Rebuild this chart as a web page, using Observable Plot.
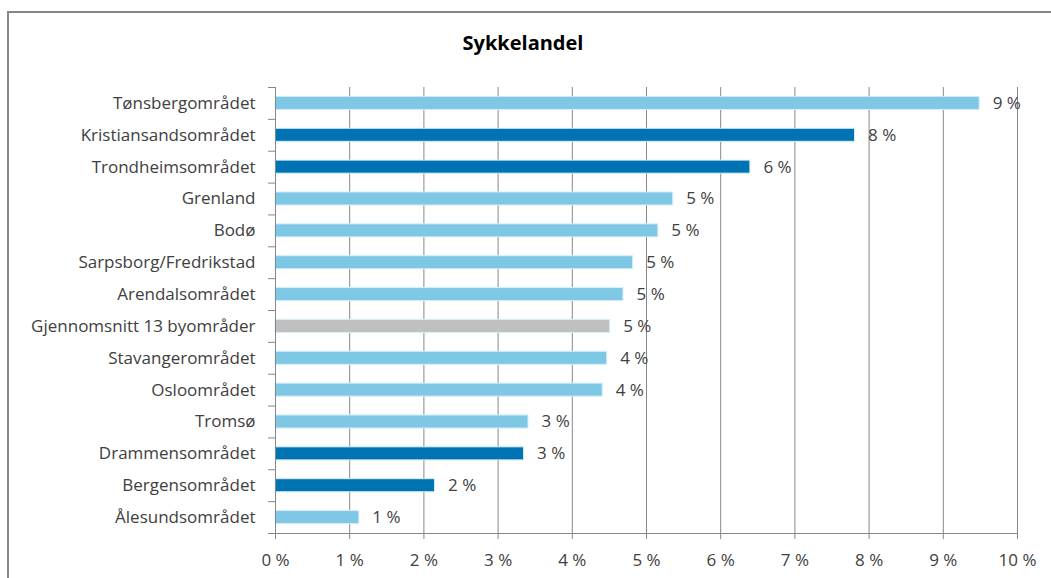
<!DOCTYPE html>
<html>
<head>
<meta charset="utf-8">
<script src="https://cdn.jsdelivr.net/npm/d3@7"></script>
<script src="https://cdn.jsdelivr.net/npm/@observablehq/plot@0.6"></script>
<style>
  html, body { margin: 0; padding: 0; background: #fff; }
  #wrap { position: relative; width: 1051px; height: 578px; overflow: hidden; background: #fff; }
  #border { position: absolute; left: 7px; top: 11px; width: 2000px; height: 2000px;
            border-left: 2px solid #868686; border-top: 2px solid #868686; }
  #title { position: absolute; left: 0; width: 1046px; top: 29px; text-align: center;
           font-family: "Open Sans", sans-serif; font-weight: bold; font-size: 20px; color: #000; }
  #chart { position: absolute; left: 0; top: 0; }
</style>
</head>
<body>
<div id="wrap">
  <div id="border"></div>
  <div id="title">Sykkelandel</div>
  <div id="chart"></div>
</div>
<script>
const regions = [
  "Tønsbergområdet", "Kristiansandsområdet", "Trondheimsområdet", "Grenland", "Bodø",
  "Sarpsborg/Fredrikstad", "Arendalsområdet", "Gjennomsnitt 13 byområder", "Stavangerområdet",
  "Osloområdet", "Tromsø", "Drammensområdet", "Bergensområdet", "Ålesundsområdet"
];
const shares = [9.49, 7.81, 6.40, 5.36, 5.16, 4.82, 4.69, 4.51, 4.47, 4.41, 3.41, 3.35, 2.15, 1.13];
const groups = ["light", "dark", "dark", "light", "light", "light", "light", "average",
                "light", "light", "light", "dark", "dark", "light"];
const xTicks = [0, 1, 2, 3, 4, 5, 6, 7, 8, 9, 10];

const data = regions.map((name, i) => ({name, value: shares[i], group: groups[i]}));

const W = 1051, H = 578;
const mL = 275, mR = 34, mT = 87, mB = 45;
const step = (H - mT - mB) / regions.length;
const grey = "#878787";
const textColor = "#404040";
const font = "'Open Sans', sans-serif";

const chart = Plot.plot({
  width: W, height: H,
  marginLeft: mL, marginRight: mR, marginTop: mT, marginBottom: mB,
  style: {fontFamily: font, fontSize: "17px", color: textColor, background: "transparent"},
  x: {domain: [0, 10], axis: null, label: null},
  y: {domain: regions, paddingInner: 0.59, paddingOuter: 0.295, round: false, axis: null, label: null},
  color: {domain: ["light", "dark", "average"], range: ["#7ec8e6", "#0073b3", "#c0c0c0"]},
  marks: [
    Plot.gridX(xTicks.slice(1), {stroke: grey, strokeOpacity: 1}),
    Plot.barX(data, {y: "name", x: "value", fill: "group", stroke: "#d6eef8", strokeWidth: 1}),
    Plot.ruleX([0], {stroke: grey}),
    Plot.ruleY([regions[regions.length - 1]], {y: d => d, stroke: grey, dy: step / 2}),
    Plot.ruleY(regions, {y: d => d, x1: 0, x2: 0, insetLeft: -7, stroke: grey, dy: step / 2}),
    Plot.ruleY([regions[0]], {y: d => d, x1: 0, x2: 0, insetLeft: -7, stroke: grey, dy: -step / 2}),
    Plot.axisX({ticks: xTicks, tickFormat: d => d + " %", tickSize: 6, tickPadding: 14,
                stroke: grey, fill: textColor, fontSize: 17, label: null}),
    Plot.axisY({tickSize: 0, tickPadding: 20, fill: textColor, fontSize: 17, label: null}),
    Plot.text(data, {y: "name", x: "value", text: d => Math.round(d.value) + " %",
                     textAnchor: "start", dx: 13, fill: textColor, fontSize: 17})
  ]
});
document.getElementById("chart").appendChild(chart);
</script>
</body>
</html>
